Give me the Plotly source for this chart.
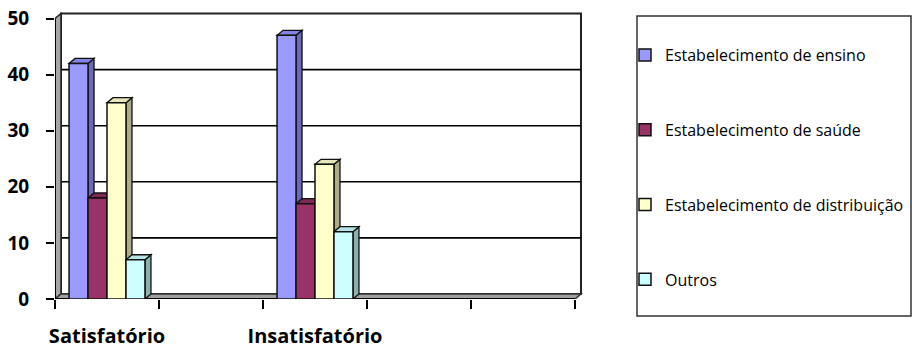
import plotly.graph_objects as go

# ---- data -------------------------------------------------------------
categories = ["Satisfatório", "", "Insatisfatório", "", ""]
series_names = [
    "Estabelecimento de ensino",
    "Estabelecimento de saúde",
    "Estabelecimento de distribuição",
    "Outros",
]
ensino = [42, None, 47, None, None]
saude = [18, None, 17, None, None]
distribuicao = [35, None, 24, None, None]
outros = [7, None, 12, None, None]
y_ticks = [0, 10, 20, 30, 40, 50]

series = [ensino, saude, distribuicao, outros]

# ---- styling ----------------------------------------------------------
front_colors = ["#9999FF", "#993366", "#FFFFCC", "#CCFFFF"]
top_colors = ["#8383E6", "#7D2953", "#E6E6B8", "#B3E3E3"]
side_colors = ["#6A6AB8", "#6A2245", "#ADAD8A", "#8CB0B0"]
EDGE = "#111111"

W, H = 912, 348
PLOT_L, PLOT_R, PLOT_T, PLOT_B = 55, 584, 11, 299
PX_PER_CAT = 104.0
PX_PER_UNIT = 5.61
DEPTH_PX = (6.0, 5.0)

n_cat = len(categories)
x_lo, x_hi = -0.5, n_cat - 0.5
x_max = x_lo + (PLOT_R - PLOT_L) / PX_PER_CAT
y_max = (PLOT_B - PLOT_T) / PX_PER_UNIT
y_top = y_ticks[-1]
DX = DEPTH_PX[0] / PX_PER_CAT
DY = DEPTH_PX[1] / PX_PER_UNIT

group_w = 0.73
bar_w = group_w / len(series)


def poly(pts):
    return "M " + " L ".join(f"{x:.5f},{y:.5f}" for x, y in pts) + " Z"


shapes = []
# back wall with its gridlines
shapes.append(dict(type="rect", xref="x", yref="y", layer="below",
                   x0=x_lo + DX, x1=x_hi + DX, y0=DY, y1=y_top + DY,
                   fillcolor="white", line=dict(color="#222222", width=2)))
for t in y_ticks[1:-1]:
    shapes.append(dict(type="line", xref="x", yref="y", layer="below",
                       x0=x_lo + DX, x1=x_hi + DX, y0=t + DY, y1=t + DY,
                       line=dict(color="black", width=1.6)))
# left side wall
shapes.append(dict(type="path", xref="x", yref="y", layer="below",
                   path=poly([(x_lo, 0), (x_lo + DX, DY), (x_lo + DX, y_top + DY), (x_lo, y_top)]),
                   fillcolor="#A6A6A6", line=dict(color="#222222", width=1.5)))
# floor
shapes.append(dict(type="path", xref="x", yref="y", layer="below",
                   path=poly([(x_lo, 0), (x_hi, 0), (x_hi + DX, DY), (x_lo + DX, DY)]),
                   fillcolor="#A0A0A0", line=dict(color="#333333", width=1.5)))
shapes.append(dict(type="line", xref="x", yref="y", layer="below",
                   x0=x_lo, x1=x_hi, y0=0, y1=0, line=dict(color="black", width=2.2)))
shapes.append(dict(type="line", xref="x", yref="y", layer="below",
                   x0=x_lo, x1=x_lo, y0=0, y1=y_top, line=dict(color="black", width=2)))

# side and top faces of every bar (front faces are the bar traces)
for i in range(n_cat):
    for j, vals in enumerate(series):
        v = vals[i]
        if v is None:
            continue
        xl = i - group_w / 2 + j * bar_w
        xr = xl + bar_w
        shapes.append(dict(type="path", xref="x", yref="y", layer="below",
                           path=poly([(xr, 0), (xr + DX, DY), (xr + DX, v + DY), (xr, v)]),
                           fillcolor=side_colors[j], line=dict(color=EDGE, width=1.3)))
        shapes.append(dict(type="path", xref="x", yref="y", layer="below",
                           path=poly([(xl, v), (xr, v), (xr + DX, v + DY), (xl + DX, v + DY)]),
                           fillcolor=top_colors[j], line=dict(color=EDGE, width=1.3)))


def paper_x(px):
    return (px - PLOT_L) / (PLOT_R - PLOT_L)


def paper_y(py):
    return (PLOT_B - py) / (PLOT_B - PLOT_T)


# legend frame
shapes.append(dict(type="rect", xref="paper", yref="paper",
                   x0=paper_x(637), x1=paper_x(911), y0=paper_y(316), y1=paper_y(16),
                   fillcolor="rgba(0,0,0,0)", line=dict(color="#333333", width=1.5)))

fig = go.Figure()
for j, (name, vals) in enumerate(zip(series_names, series)):
    fig.add_trace(go.Bar(
        x=list(range(n_cat)), y=vals, name=name, legendgroup=name,
        width=bar_w, offset=-group_w / 2 + j * bar_w,
        marker=dict(color=front_colors[j], line=dict(color=EDGE, width=1.5)),
        hoverinfo="skip",
    ))
# carrier for the category label axis
fig.add_trace(go.Scatter(x=[None], y=[None], xaxis="x2", yaxis="y",
                         showlegend=False, hoverinfo="skip"))

label_font = dict(family="Open Sans", size=19, color="black", weight="bold")

fig.update_layout(
    width=W, height=H,
    margin=dict(l=PLOT_L, r=W - PLOT_R, t=PLOT_T, b=H - PLOT_B, pad=0, autoexpand=False),
    paper_bgcolor="white", plot_bgcolor="white",
    barmode="overlay",
    shapes=shapes,
    showlegend=True,
    legend=dict(xref="container", yref="container",
                x=625 / W, y=1 - 38 / H, xanchor="left", yanchor="top",
                font=dict(family="Open Sans", size=16, color="black"),
                tracegroupgap=51, maxheight=400,
                bgcolor="rgba(0,0,0,0)", borderwidth=0),
    xaxis=dict(range=[x_lo, x_max], tickmode="array",
               tickvals=[k - 0.5 for k in range(n_cat + 1)],
               ticktext=[""] * (n_cat + 1),
               ticks="outside", ticklen=9, tickwidth=1.5, tickcolor="black",
               showgrid=False, zeroline=False, showline=False, fixedrange=True),
    xaxis2=dict(overlaying="x", anchor="y", side="bottom", range=[x_lo, x_max],
                tickmode="array", tickvals=list(range(n_cat)), ticktext=categories,
                ticks="", ticklabelstandoff=23, tickfont=dict(family="Open Sans", size=20,
                                                               color="black", weight="bold"),
                showgrid=False, zeroline=False, showline=False, fixedrange=True),
    yaxis=dict(range=[0, y_max], tickmode="array", tickvals=y_ticks,
               ticks="outside", ticklen=8, tickwidth=1.5, tickcolor="black",
               tickfont=label_font, ticklabelstandoff=13,
               showgrid=False, zeroline=False, showline=False, fixedrange=True),
)

fig.write_html("out.html")
